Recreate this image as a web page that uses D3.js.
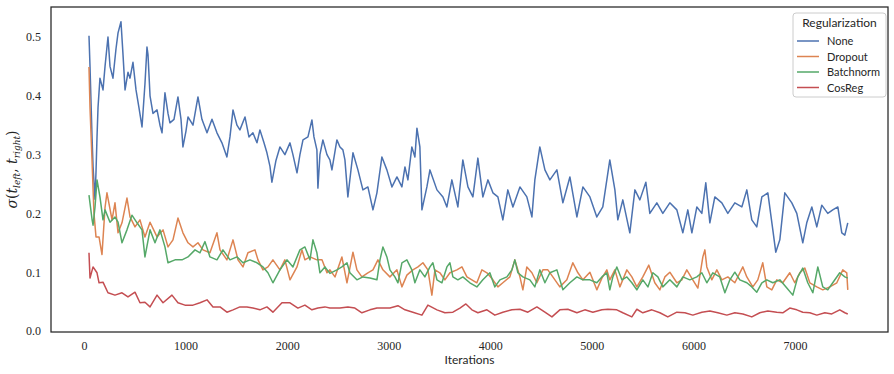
<!DOCTYPE html>
<html>
<head>
<meta charset="utf-8">
<script src="https://cdn.jsdelivr.net/npm/d3@7"></script>
<style>
  body { margin: 0; background: #fff; }
  .tick text { font-family: "Liberation Serif", "DejaVu Serif", serif; font-size: 12px; fill: #262626; }
  .lbl { font-family: Lato, "DejaVu Sans", sans-serif; fill: #262626; }
</style>
</head>
<body>
<div id="chart"></div>
<script>
// [iteration, value]
const seriesNone = [[49,0.502],[59,0.45],[79,0.33],[89,0.28],[108,0.224],[118,0.27],[128,0.33],[138,0.38],[157,0.43],[187,0.41],[207,0.45],[236,0.50],[256,0.45],[285,0.43],[315,0.48],[335,0.507],[364,0.526],[384,0.47],[404,0.41],[433,0.44],[453,0.43],[482,0.457],[512,0.41],[541,0.38],[571,0.347],[600,0.42],[620,0.483],[630,0.47],[650,0.40],[679,0.37],[719,0.376],[748,0.35],[768,0.337],[797,0.405],[827,0.37],[846,0.354],[886,0.36],[925,0.398],[955,0.36],[974,0.313],[1004,0.34],[1024,0.364],[1073,0.35],[1122,0.398],[1161,0.36],[1211,0.337],[1260,0.36],[1309,0.337],[1358,0.32],[1407,0.296],[1437,0.33],[1467,0.376],[1506,0.35],[1535,0.342],[1585,0.364],[1624,0.33],[1663,0.337],[1703,0.32],[1732,0.342],[1772,0.32],[1801,0.303],[1831,0.28],[1850,0.253],[1890,0.29],[1929,0.313],[1978,0.30],[2028,0.32],[2057,0.30],[2097,0.269],[2126,0.30],[2156,0.325],[2205,0.33],[2244,0.359],[2264,0.33],[2293,0.308],[2303,0.243],[2323,0.30],[2352,0.325],[2392,0.30],[2421,0.291],[2441,0.274],[2490,0.325],[2520,0.313],[2549,0.308],[2569,0.291],[2598,0.228],[2648,0.303],[2697,0.274],[2746,0.240],[2795,0.245],[2845,0.206],[2884,0.235],[2933,0.296],[2982,0.274],[3032,0.245],[3081,0.262],[3130,0.245],[3160,0.279],[3189,0.257],[3228,0.313],[3258,0.296],[3278,0.345],[3307,0.313],[3327,0.206],[3376,0.245],[3406,0.274],[3475,0.240],[3534,0.228],[3573,0.211],[3622,0.257],[3681,0.211],[3730,0.291],[3780,0.245],[3829,0.228],[3878,0.294],[3927,0.228],[3977,0.257],[4026,0.235],[4075,0.228],[4124,0.189],[4173,0.240],[4223,0.211],[4292,0.245],[4360,0.228],[4410,0.194],[4439,0.257],[4488,0.313],[4538,0.274],[4587,0.257],[4656,0.274],[4715,0.218],[4784,0.262],[4853,0.194],[4912,0.245],[4981,0.228],[5049,0.194],[5108,0.211],[5177,0.291],[5227,0.240],[5256,0.189],[5305,0.223],[5374,0.167],[5424,0.240],[5473,0.223],[5532,0.253],[5571,0.2],[5640,0.218],[5699,0.2],[5768,0.218],[5837,0.206],[5896,0.167],[5945,0.206],[5985,0.167],[6034,0.211],[6083,0.2],[6122,0.252],[6162,0.184],[6211,0.228],[6280,0.218],[6339,0.2],[6408,0.218],[6477,0.211],[6526,0.240],[6575,0.189],[6624,0.177],[6674,0.228],[6733,0.235],[6782,0.172],[6811,0.134],[6851,0.155],[6900,0.235],[6969,0.218],[7018,0.2],[7077,0.15],[7116,0.184],[7166,0.211],[7215,0.177],[7264,0.214],[7323,0.2],[7372,0.206],[7422,0.211],[7461,0.167],[7491,0.163],[7520,0.184]];

const seriesDropout = [[49,0.449],[59,0.38],[79,0.29],[98,0.20],[118,0.16],[148,0.16],[177,0.13],[207,0.21],[226,0.235],[276,0.189],[305,0.218],[335,0.167],[374,0.184],[423,0.226],[453,0.194],[502,0.177],[551,0.189],[600,0.16],[650,0.185],[719,0.16],[778,0.172],[827,0.143],[876,0.155],[925,0.192],[974,0.167],[1024,0.15],[1073,0.143],[1122,0.15],[1171,0.138],[1240,0.133],[1309,0.167],[1339,0.138],[1407,0.121],[1467,0.155],[1516,0.121],[1565,0.109],[1614,0.133],[1683,0.138],[1713,0.121],[1762,0.104],[1811,0.109],[1860,0.121],[1929,0.104],[1978,0.121],[2028,0.087],[2097,0.109],[2146,0.138],[2175,0.121],[2225,0.126],[2293,0.121],[2343,0.121],[2392,0.099],[2421,0.104],[2471,0.092],[2539,0.126],[2589,0.082],[2648,0.134],[2687,0.104],[2736,0.092],[2795,0.099],[2845,0.104],[2894,0.121],[2943,0.104],[3012,0.092],[3081,0.104],[3130,0.075],[3179,0.095],[3238,0.104],[3288,0.109],[3337,0.116],[3386,0.104],[3425,0.061],[3455,0.104],[3504,0.099],[3553,0.087],[3603,0.099],[3671,0.104],[3721,0.109],[3770,0.092],[3819,0.087],[3868,0.082],[3918,0.104],[3967,0.099],[4026,0.087],[4075,0.075],[4124,0.082],[4193,0.092],[4242,0.121],[4292,0.092],[4321,0.07],[4360,0.109],[4410,0.099],[4459,0.082],[4518,0.104],[4567,0.104],[4616,0.092],[4685,0.075],[4754,0.087],[4813,0.116],[4863,0.099],[4912,0.087],[4981,0.1],[5049,0.07],[5099,0.09],[5148,0.104],[5177,0.087],[5227,0.104],[5276,0.075],[5345,0.104],[5394,0.092],[5443,0.075],[5502,0.092],[5561,0.112],[5620,0.082],[5670,0.07],[5719,0.092],[5768,0.1],[5837,0.082],[5886,0.087],[5935,0.104],[5994,0.087],[6044,0.073],[6093,0.126],[6113,0.138],[6132,0.109],[6181,0.087],[6231,0.104],[6280,0.087],[6339,0.092],[6408,0.082],[6487,0.109],[6526,0.092],[6585,0.075],[6634,0.087],[6683,0.116],[6723,0.075],[6772,0.07],[6821,0.087],[6880,0.082],[6949,0.099],[6998,0.082],[7048,0.099],[7097,0.107],[7146,0.082],[7215,0.075],[7274,0.07],[7343,0.075],[7412,0.082],[7471,0.104],[7510,0.099],[7520,0.07]];

const seriesBatchnorm = [[49,0.231],[79,0.19],[89,0.18],[108,0.21],[128,0.257],[157,0.228],[187,0.189],[207,0.206],[256,0.185],[305,0.194],[335,0.185],[374,0.15],[423,0.172],[472,0.197],[522,0.184],[571,0.172],[600,0.126],[650,0.172],[699,0.15],[748,0.172],[797,0.143],[827,0.116],[896,0.121],[965,0.121],[1024,0.126],[1093,0.138],[1142,0.133],[1191,0.152],[1240,0.126],[1309,0.121],[1368,0.138],[1437,0.121],[1506,0.126],[1565,0.116],[1634,0.121],[1703,0.116],[1762,0.109],[1811,0.099],[1860,0.082],[1929,0.104],[1998,0.121],[2057,0.109],[2126,0.138],[2175,0.143],[2225,0.121],[2254,0.155],[2293,0.133],[2323,0.099],[2372,0.109],[2421,0.098],[2490,0.104],[2539,0.109],[2589,0.116],[2618,0.099],[2687,0.087],[2746,0.092],[2815,0.09],[2884,0.087],[2914,0.121],[2943,0.143],[2982,0.126],[3012,0.104],[3061,0.092],[3091,0.082],[3130,0.116],[3179,0.121],[3228,0.104],[3258,0.082],[3307,0.104],[3356,0.092],[3406,0.109],[3435,0.116],[3475,0.087],[3524,0.082],[3573,0.109],[3603,0.116],[3632,0.092],[3681,0.087],[3730,0.092],[3799,0.082],[3868,0.075],[3927,0.087],[3996,0.099],[4045,0.075],[4095,0.087],[4164,0.092],[4213,0.104],[4242,0.121],[4272,0.099],[4321,0.092],[4390,0.087],[4439,0.075],[4488,0.104],[4538,0.082],[4587,0.099],[4656,0.104],[4715,0.07],[4784,0.082],[4853,0.092],[4912,0.087],[4981,0.087],[5049,0.082],[5099,0.092],[5148,0.099],[5177,0.07],[5207,0.092],[5246,0.109],[5296,0.087],[5345,0.092],[5394,0.082],[5443,0.07],[5502,0.087],[5552,0.075],[5601,0.099],[5650,0.092],[5699,0.075],[5768,0.087],[5837,0.075],[5896,0.092],[5965,0.087],[6034,0.092],[6083,0.099],[6132,0.082],[6191,0.099],[6260,0.092],[6310,0.065],[6359,0.087],[6408,0.1],[6457,0.087],[6526,0.082],[6575,0.075],[6624,0.066],[6674,0.082],[6723,0.087],[6782,0.082],[6851,0.087],[6920,0.073],[6979,0.061],[7028,0.092],[7077,0.107],[7126,0.082],[7176,0.065],[7225,0.109],[7274,0.075],[7323,0.07],[7372,0.082],[7441,0.099],[7491,0.092],[7520,0.09]];

const seriesCosReg = [[49,0.133],[59,0.09],[89,0.109],[128,0.099],[148,0.082],[187,0.083],[236,0.065],[305,0.061],[374,0.065],[433,0.058],[502,0.066],[551,0.048],[600,0.049],[650,0.041],[719,0.061],[778,0.048],[866,0.061],[925,0.048],[994,0.044],[1073,0.044],[1142,0.048],[1211,0.053],[1270,0.041],[1339,0.041],[1407,0.032],[1467,0.036],[1535,0.041],[1604,0.041],[1663,0.039],[1732,0.036],[1801,0.041],[1860,0.032],[1949,0.048],[2028,0.048],[2106,0.039],[2175,0.044],[2244,0.036],[2303,0.039],[2372,0.041],[2421,0.039],[2520,0.039],[2598,0.041],[2667,0.039],[2736,0.031],[2815,0.036],[2884,0.039],[2943,0.039],[3012,0.039],[3091,0.043],[3160,0.036],[3238,0.032],[3327,0.027],[3386,0.044],[3475,0.036],[3553,0.031],[3632,0.032],[3701,0.039],[3760,0.046],[3819,0.036],[3878,0.031],[3967,0.036],[4045,0.027],[4124,0.032],[4213,0.036],[4292,0.037],[4370,0.032],[4459,0.041],[4538,0.032],[4607,0.024],[4685,0.036],[4764,0.037],[4853,0.031],[4931,0.036],[5010,0.032],[5099,0.036],[5158,0.037],[5246,0.036],[5305,0.031],[5394,0.024],[5443,0.037],[5502,0.031],[5591,0.036],[5670,0.031],[5748,0.024],[5837,0.032],[5916,0.031],[5994,0.027],[6083,0.032],[6162,0.034],[6241,0.031],[6329,0.027],[6408,0.031],[6487,0.029],[6575,0.024],[6654,0.031],[6733,0.034],[6821,0.032],[6880,0.031],[6949,0.039],[7018,0.036],[7077,0.032],[7146,0.031],[7215,0.027],[7294,0.031],[7362,0.029],[7441,0.036],[7491,0.031],[7520,0.029]];

const seriesNames = ["None", "Dropout", "Batchnorm", "CosReg"];
const seriesColors = ["#4c72b0", "#dd8452", "#55a868", "#c44e52"];
const xTicks = [0, 1000, 2000, 3000, 4000, 5000, 6000, 7000];
const yTicks = [0.0, 0.1, 0.2, 0.3, 0.4, 0.5];

const width = 894, height = 374;
const margin = {top: 7, right: 6, bottom: 42, left: 51};
const innerW = width - margin.left - margin.right;
const innerH = height - margin.top - margin.bottom;

const svg = d3.select("#chart").append("svg")
    .attr("width", width)
    .attr("height", height);

const g = svg.append("g")
    .attr("transform", `translate(${margin.left},${margin.top})`);

const x = d3.scaleLinear().domain([-325, 7916]).range([0, innerW]);
const y = d3.scaleLinear().domain([-0.0017, 0.551]).range([innerH, 0]);

// axes (no tick marks, seaborn "white" style)
g.append("g")
    .attr("transform", `translate(0,${innerH})`)
    .call(d3.axisBottom(x).tickValues(xTicks).tickSize(0).tickPadding(9).tickFormat(d3.format("d")))
    .call(a => a.select(".domain").remove());

g.append("g")
    .call(d3.axisLeft(y).tickValues(yTicks).tickSize(0).tickPadding(10).tickFormat(d3.format(".1f")))
    .call(a => a.select(".domain").remove());

const line = d3.line()
    .x(d => x(d[0]))
    .y(d => y(d[1]));

const allSeries = [seriesNone, seriesDropout, seriesBatchnorm, seriesCosReg];

g.append("g")
    .selectAll("path")
    .data(allSeries)
    .enter().append("path")
    .attr("d", line)
    .attr("fill", "none")
    .attr("stroke", (d, i) => seriesColors[i])
    .attr("stroke-width", 1.5)
    .attr("stroke-linejoin", "round");

// frame
g.append("rect")
    .attr("width", innerW)
    .attr("height", innerH)
    .attr("fill", "none")
    .attr("stroke", "#262626")
    .attr("stroke-width", 1.25);

// axis labels
svg.append("text")
    .attr("class", "lbl")
    .attr("x", margin.left + innerW / 2)
    .attr("y", 364)
    .attr("text-anchor", "middle")
    .style("font-size", "12px")
    .text("Iterations");

const yl = svg.append("text")
    .attr("transform", `translate(17,${margin.top + innerH / 2}) rotate(-90)`)
    .attr("text-anchor", "middle")
    .style("font-family", "'DejaVu Serif', serif")
    .style("font-style", "italic")
    .style("font-size", "14px")
    .attr("fill", "#262626");
yl.append("tspan").text("σ");
yl.append("tspan").style("font-style", "normal").text("(");
yl.append("tspan").text("t");
yl.append("tspan").attr("dy", 3).style("font-size", "9px").text("left");
yl.append("tspan").attr("dy", -3).style("font-style", "normal").text(", ");
yl.append("tspan").text("t");
yl.append("tspan").attr("dy", 3).style("font-size", "9px").text("right");
yl.append("tspan").attr("dy", -3).style("font-style", "normal").text(")");

// legend
const legend = svg.append("g").attr("transform", "translate(793,13)");
legend.append("rect")
    .attr("width", 93)
    .attr("height", 84)
    .attr("rx", 3)
    .attr("fill", "#fff")
    .attr("fill-opacity", 0.8)
    .attr("stroke", "#cccccc")
    .attr("stroke-width", 1);
legend.append("text")
    .attr("class", "lbl")
    .attr("x", 46.5)
    .attr("y", 14)
    .attr("text-anchor", "middle")
    .style("font-size", "12px")
    .text("Regularization");

const item = legend.selectAll(".item")
    .data(seriesNames)
    .enter().append("g")
    .attr("class", "item")
    .attr("transform", (d, i) => `translate(0,${28 + i * 15.5})`);
item.append("line")
    .attr("x1", 4).attr("x2", 26)
    .attr("stroke", (d, i) => seriesColors[i])
    .attr("stroke-width", 1.5);
item.append("text")
    .attr("class", "lbl")
    .attr("x", 34)
    .attr("y", 4)
    .style("font-size", "11px")
    .text(d => d);
</script>
</body>
</html>
